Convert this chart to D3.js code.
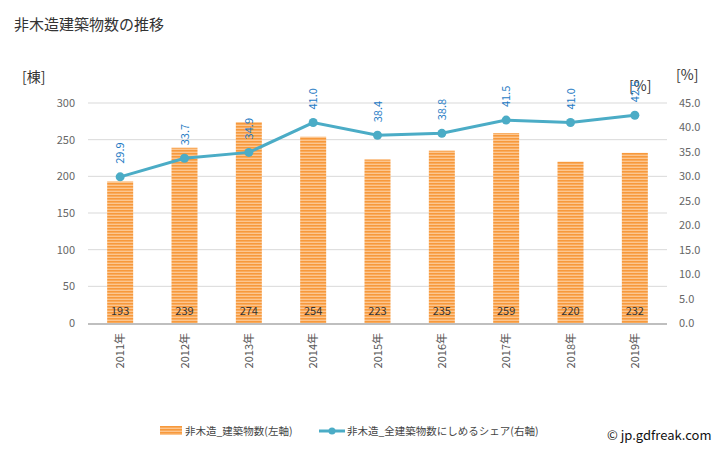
<!DOCTYPE html>
<html><head><meta charset="utf-8">
<script src="https://cdn.jsdelivr.net/npm/d3@7"></script>
<style>body{margin:0;background:#fff;font-family:"Noto Sans CJK JP","Noto Sans",sans-serif;}</style>
</head><body><svg id="c" width="728" height="450"></svg>
<script>
const categories = ["2011年","2012年","2013年","2014年","2015年","2016年","2017年","2018年","2019年"];
const barValues = [193,239,274,254,223,235,259,220,232];
const lineValues = [29.9,33.7,34.9,41.0,38.4,38.8,41.5,41.0,42.5];
const leftTicks = [0,50,100,150,200,250,300];
const rightTicks = [0,5,10,15,20,25,30,35,40,45];
const title = "非木造建築物数の推移";
const barName = "非木造_建築物数(左軸)";
const lineName = "非木造_全建築物数にしめるシェア(右軸)";

const svg = d3.select("#c");
const font = "'Noto Sans CJK JP','Noto Sans',sans-serif";
const L = 88, R = 667, T = 103, B = 323;

const defs = svg.append("defs");
const pat = defs.append("pattern").attr("id","stripe").attr("patternUnits","userSpaceOnUse").attr("width",4).attr("height",3);
pat.append("rect").attr("width",4).attr("height",3).attr("fill","#fcc690");
pat.append("rect").attr("width",4).attr("height",1.6).attr("fill","#f7993c");

const x = d3.scaleBand().domain(categories).range([L,R]);
const yL = d3.scaleLinear().domain([0,300]).range([B,T]);
const yR = d3.scaleLinear().domain([0,45]).range([B,T]);

svg.append("text").attr("x",14).attr("y",30).attr("font-size",15).attr("fill","#333").attr("font-family",font).text(title);
svg.append("text").attr("x",22).attr("y",82).attr("font-size",14).attr("fill","#333").attr("font-family",font).text("[棟]");
svg.append("text").attr("x",676).attr("y",80).attr("font-size",14).attr("fill","#333").attr("font-family",font).text("[%]");
svg.append("text").attr("x",629).attr("y",91).attr("font-size",14).attr("fill","#333").attr("font-family",font).text("[%]");

// grid
svg.append("g").selectAll("line").data(leftTicks.filter(d=>d>0)).join("line")
  .attr("x1",L).attr("x2",R).attr("y1",d=>yL(d)).attr("y2",d=>yL(d))
  .attr("stroke","#d9d9d9").attr("stroke-width",1);

// left axis
const gl = svg.append("g").attr("transform",`translate(${L},0)`)
  .call(d3.axisLeft(yL).tickValues(leftTicks).tickSize(0).tickPadding(13));
gl.select(".domain").remove();
gl.selectAll("text").attr("font-size",11).attr("fill","#666").attr("font-family",font);

// right axis
const gr = svg.append("g").attr("transform",`translate(${R},0)`)
  .call(d3.axisRight(yR).tickValues(rightTicks).tickSize(0).tickPadding(12).tickFormat(d3.format(".1f")));
gr.select(".domain").remove();
gr.selectAll("text").attr("font-size",11).attr("fill","#666").attr("font-family",font);

// bars
const bw = 26;
svg.append("g").selectAll("rect").data(barValues).join("rect")
  .attr("x",(d,i)=>x(categories[i])+x.bandwidth()/2-bw/2)
  .attr("width",bw).attr("y",d=>yL(d)).attr("height",d=>B-yL(d))
  .attr("fill","url(#stripe)");

svg.append("g").selectAll("text").data(barValues).join("text")
  .attr("x",(d,i)=>x(categories[i])+x.bandwidth()/2).attr("y",B-8)
  .attr("text-anchor","middle").attr("font-size",11).attr("fill","#333").attr("font-family",font)
  .text(d=>d);

// baseline
svg.append("line").attr("x1",L).attr("x2",R).attr("y1",B+1).attr("y2",B+1).attr("stroke","#bfbfbf").attr("stroke-width",2);

// x labels
svg.append("g").selectAll("text").data(categories).join("text")
  .attr("transform",d=>`translate(${x(d)+x.bandwidth()/2+4},333) rotate(-90)`)
  .attr("text-anchor","end").attr("font-size",11).attr("fill","#555").attr("font-family",font)
  .text(d=>d);

// line
const cx = (i)=>x(categories[i])+x.bandwidth()/2;
const line = d3.line().x((d,i)=>cx(i)).y(d=>yR(d));
svg.append("path").datum(lineValues).attr("d",line).attr("fill","none").attr("stroke","#4bacc6").attr("stroke-width",3);
svg.append("g").selectAll("circle").data(lineValues).join("circle")
  .attr("cx",(d,i)=>cx(i)).attr("cy",d=>yR(d)).attr("r",4.5).attr("fill","#4bacc6");
svg.append("g").selectAll("text").data(lineValues).join("text")
  .attr("transform",(d,i)=>`translate(${cx(i)+4},${yR(d)-13}) rotate(-90)`)
  .attr("text-anchor","start").attr("font-size",11).attr("fill","#1f7bc4").attr("font-family",font)
  .text(d=>d.toFixed(1));

// legend
svg.append("rect").attr("x",160).attr("y",426).attr("width",22).attr("height",9).attr("fill","url(#stripe)");
svg.append("text").attr("x",185).attr("y",435).attr("font-size",10.5).attr("fill","#444").attr("font-family",font).text(barName);
svg.append("line").attr("x1",319).attr("x2",345).attr("y1",431).attr("y2",431).attr("stroke","#4bacc6").attr("stroke-width",3);
svg.append("circle").attr("cx",332).attr("cy",431).attr("r",3.5).attr("fill","#4bacc6");
svg.append("text").attr("x",347).attr("y",435).attr("font-size",10.5).attr("fill","#444").attr("font-family",font).text(lineName);
svg.append("text").attr("x",607).attr("y",440).attr("font-size",13).attr("fill","#111").attr("font-family",font).text("© jp.gdfreak.com");
</script></body></html>
